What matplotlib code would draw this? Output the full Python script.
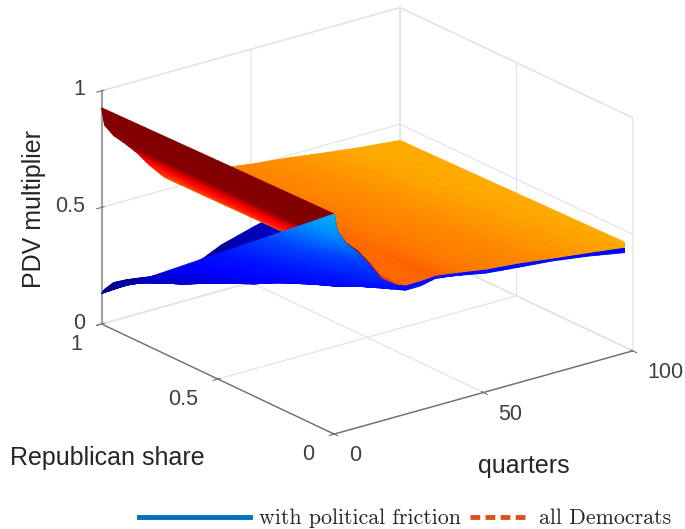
import numpy as np
import matplotlib
matplotlib.use("Agg")
import matplotlib.pyplot as plt
from matplotlib.colors import LinearSegmentedColormap
from matplotlib.lines import Line2D
from mpl_toolkits.mplot3d.art3d import Poly3DCollection

plt.rcParams['font.family'] = ['Liberation Sans', 'DejaVu Sans']
plt.rcParams['grid.color'] = '#e4e4e4'
plt.rcParams['grid.linewidth'] = 0.9

# values
quarters = [0, 1, 4, 8, 12, 16, 21, 24, 29, 34, 40, 51, 62, 73, 85, 100]

# all Democrats, rows are Republican share 0, 0.5, 1
dem_share = [0, 0.5, 1]
dem_0 = [.944, .87, .805, .755, .688, .612, .569, .554, .555, .560, .549, .526, .513, .494, .475, .45]
dem_5 = [.936, .86, .80, .75, .689, .618, .562, .551, .550, .550, .537, .515, .501, .482, .462, .44]
dem_1 = [.927, .85, .795, .745, .69, .625, .555, .548, .545, .54, .525, .505, .49, .47, .45, .43]

# with political friction, rows are Republican share 0, .25, .5, .75, 1
fric_share = [0, 0.25, 0.5, 0.75, 1]
fric_0 = [.944, .87, .803, .75, .682, .606, .562, .532, .533, .547, .536, .509, .495, .482, .46, .425]
fric_25 = [.74, .705, .635, .56, .50, .465, .44, .435, .43, .425, .42, .41, .41, .42, .425, .42]
fric_5 = [.537, .505, .45, .39, .365, .36, .36, .36, .365, .37, .375, .38, .39, .40, .405, .41]
fric_75 = [.334, .31, .28, .26, .255, .255, .26, .26, .27, .28, .30, .32, .34, .36, .38, .39]
fric_1 = [.13, .145, .163, .16, .153, .145, .14, .14, .145, .16, .195, .235, .27, .30, .34, .38]

dem_cmap = LinearSegmentedColormap.from_list('dem', [
    (0.00, '#ffaa00'), (0.10, '#ff8c00'), (0.20, '#ff7000'), (0.26, '#ff4000'),
    (0.42, '#ff0000'), (0.55, '#b00000'), (0.61, '#880000'), (1.00, '#800000')])
fric_cmap = LinearSegmentedColormap.from_list('fric', [
    (0.00, '#000082'), (0.15, '#0000be'), (0.35, '#0000ff'), (0.50, '#0010ff'),
    (0.70, '#0040ff'), (0.78, '#0064ff'), (0.90, '#0096ff'), (1.00, '#00afff')])

FOLD = 7  # index of quarter 24, where the sheets turn from underside to top side


def sheet(q, s, rows, cmap, zmin, zmax, zorder, nq=4, ns=8):
    # split each mesh cell so the shading comes out smooth
    q = np.array(q, float)
    s = np.array(s, float)
    Z = np.array(rows, float)
    qi = np.interp(np.linspace(0, len(q) - 1, (len(q) - 1) * nq + 1), np.arange(len(q)), q)
    si = np.linspace(0, 1, (len(s) - 1) * ns + 1)
    Zq = np.array([np.interp(qi, q, r) for r in Z])
    Zi = np.array([np.interp(si, s, Zq[:, j]) for j in range(len(qi))]).T
    polys, cols = [], []
    for i in range(len(si) - 1):
        for j in range(len(qi) - 1):
            polys.append([(qi[j], si[i], Zi[i, j]), (qi[j + 1], si[i], Zi[i, j + 1]),
                          (qi[j + 1], si[i + 1], Zi[i + 1, j + 1]), (qi[j], si[i + 1], Zi[i + 1, j])])
            zm = (Zi[i, j] + Zi[i, j + 1] + Zi[i + 1, j + 1] + Zi[i + 1, j]) / 4
            cols.append(cmap((zm - zmin) / (zmax - zmin)))
    coll = Poly3DCollection(polys, facecolors=cols, edgecolors=cols, linewidths=0.7, zsort='average')
    coll.set_zorder(zorder)
    return coll


fig = plt.figure(figsize=(6.85, 5.29), dpi=100)
ax = fig.add_axes([17.5 / 685, 36.5 / 529, 1, 1], projection='3d', computed_zorder=False)
ax.set_proj_type('ortho')
ax.view_init(elev=21.3, azim=-127.5)
ax.set_box_aspect((0.985, 1, 0.655), zoom=1.086)
ax.patch.set_alpha(0)

dem_rows = np.array([dem_0, dem_5, dem_1])
fric_rows = np.array([fric_0, fric_25, fric_5, fric_75, fric_1])
# painter's order: friction back, Democrats top side, Democrats underside, friction front
ax.add_collection3d(sheet(quarters[FOLD:], fric_share, fric_rows[:, FOLD:], fric_cmap, .13, .944, 5), autolim=False)
ax.add_collection3d(sheet(quarters[FOLD:], dem_share, dem_rows[:, FOLD:], dem_cmap, .45, .944, 6), autolim=False)
ax.add_collection3d(sheet(quarters[:FOLD + 1], dem_share, dem_rows[:, :FOLD + 1], dem_cmap, .45, .944, 7), autolim=False)
ax.add_collection3d(sheet(quarters[:FOLD + 1], fric_share, fric_rows[:, :FOLD + 1], fric_cmap, .13, .944, 8), autolim=False)

ax.set_xlim(0, 100, view_margin=0)
ax.set_ylim(0, 1, view_margin=0)
ax.set_zlim(0, 1, view_margin=0)
ax.set_xticks([0, 50, 100])
ax.set_xticklabels(['0', '50', '100'], va='center', ha='left')
ax.set_yticks([0, 0.5, 1])
ax.set_yticklabels(['0', '0.5', '1'], va='center', ha='right')
ax.set_zticks([0, 0.5, 1])
ax.set_zticklabels(['0', '0.5', '1'], va='center', ha='right')
ax.tick_params(labelsize=15.5, labelcolor='#404040', color='#707070')
ax.tick_params(axis='x', pad=4.5)
ax.tick_params(axis='y', pad=5)
ax.tick_params(axis='z', pad=-1.8)
for a in (ax.xaxis, ax.yaxis, ax.zaxis):
    a.set_pane_color((1, 1, 1, 1))
    a.pane.set_edgecolor('#e4e4e4')
    a.line.set_color('#707070')
    a.line.set_linewidth(1.0)
ax.zaxis.line.set_color('#a0a0a0')
ax.zaxis.line.set_linewidth(1.5)

fig.text(10 / 685, 1 - 458 / 529, 'Republican share', fontsize=18, color='#262626', va='center')
fig.text(524 / 685, 1 - 466 / 529, 'quarters', fontsize=18, color='#262626', va='center', ha='center')
fig.text(34.5 / 685, 1 - 209 / 529, 'PDV multiplier', fontsize=18, color='#262626', rotation=90, va='center', ha='center')

line_a = Line2D([], [], color='#0072bd', lw=3.5)
line_b = Line2D([], [], color='#d95319', lw=3.5, dashes=(2.0, 1.1), dash_capstyle='butt')
leg_a = fig.legend([line_a], ['with political friction'], loc='center left', bbox_to_anchor=(139 / 685, 1 - 518.5 / 529),
                   frameon=False, borderpad=0, borderaxespad=0, handlelength=5.07, handletextpad=0.4,
                   prop={'family': 'cmr10', 'size': 15.8}, labelcolor='#262626')
leg_b = fig.legend([line_b], ['all Democrats'], loc='center left', bbox_to_anchor=(470 / 685, 1 - 518.5 / 529),
                   frameon=False, borderpad=0, borderaxespad=0, handlelength=2.65, handletextpad=0.5,
                   prop={'family': 'cmr10', 'size': 15.8}, labelcolor='#262626')

fig.savefig('out.png', dpi=100)
